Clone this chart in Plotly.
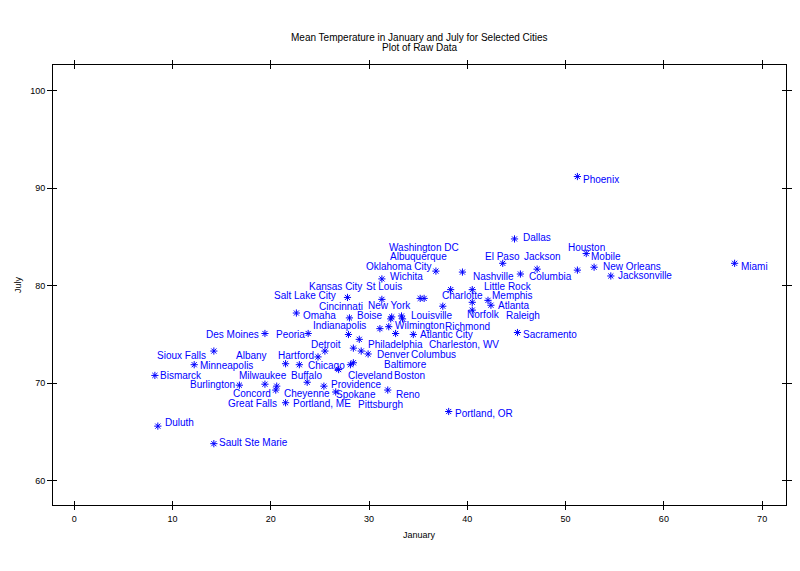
import plotly.graph_objects as go

cities = ["Mobile", "Phoenix", "Little Rock", "Sacramento", "Denver", "Hartford", "Wilmington",
          "Washington DC", "Jacksonville", "Miami", "Atlanta", "Boise", "Chicago", "Peoria",
          "Indianapolis", "Des Moines", "Wichita", "Louisville", "New Orleans", "Portland, ME",
          "Baltimore", "Boston", "Detroit", "Sault Ste Marie", "Duluth", "Minneapolis", "Jackson",
          "Kansas City", "St Louis", "Great Falls", "Omaha", "Reno", "Concord", "Atlantic City",
          "Albuquerque", "Albany", "Buffalo", "New York", "Charlotte", "Raleigh", "Bismarck",
          "Cincinnati", "Cleveland", "Columbus", "Oklahoma City", "Portland, OR", "Philadelphia",
          "Pittsburgh", "Providence", "Columbia", "Sioux Falls", "Memphis", "Nashville", "Dallas",
          "El Paso", "Houston", "Salt Lake City", "Burlington", "Norfolk", "Richmond", "Spokane",
          "Charleston, WV", "Milwaukee", "Cheyenne"]

january = [51.2, 51.2, 39.5, 45.1, 29.9, 24.8, 32.0,
           35.6, 54.6, 67.2, 42.4, 29.0, 22.9, 23.8,
           27.9, 19.4, 31.3, 33.3, 52.9, 21.5,
           33.4, 29.2, 25.5, 14.2, 8.5, 12.2, 47.1,
           27.8, 31.3, 20.5, 22.6, 31.9, 20.6, 32.7,
           35.2, 21.5, 23.7, 32.2, 42.1, 40.5, 8.2,
           31.1, 26.9, 28.4, 36.8, 38.1, 32.3,
           28.1, 28.4, 45.4, 14.2, 40.5, 38.3, 44.8,
           43.6, 52.1, 28.0, 16.8, 40.5, 37.5, 25.4,
           34.5, 19.4, 26.6]

july = [81.6, 91.2, 81.4, 75.2, 73.0, 72.7, 75.8,
        78.7, 81.0, 82.3, 78.0, 74.5, 71.9, 75.1,
        75.0, 75.1, 80.7, 76.9, 81.9, 68.0,
        76.6, 73.3, 73.3, 63.8, 65.6, 71.9, 81.7,
        78.8, 78.6, 69.3, 77.2, 69.3, 69.7, 75.1,
        78.7, 72.0, 70.1, 76.6, 78.5, 77.5, 70.8,
        75.6, 71.4, 73.6, 81.5, 67.1, 76.8,
        71.9, 72.1, 81.2, 73.3, 79.6, 79.6, 84.8,
        82.3, 83.3, 76.7, 69.8, 78.3, 77.9, 69.7,
        75.0, 69.9, 69.1]

x_ticks = [0, 10, 20, 30, 40, 50, 60, 70]
y_ticks = [60, 70, 80, 90, 100]

title_lines = ["Mean Temperature in January and July for Selected Cities", "Plot of Raw Data"]
x_title = "January"
y_title = "July"

# label placement: pixel offset (dx right, dy down) of label's left/middle from its point
label_offsets = {
    "Mobile": (13.4, -13.4), "Phoenix": (5.4, 2.5), "Little Rock": (21.7, 14.6),
    "Sacramento": (6, 2.2), "Denver": (8.8, 0.75), "Hartford": (-40.1, -1.9),
    "Wilmington": (6.4, -0.95), "Washington DC": (-35.6, -50.7), "Jacksonville": (7, 0),
    "Miami": (6.1, 3.4), "Atlanta": (7.5, 0.5), "Boise": (-2.4, -23.6), "Chicago": (8.9, 0.3),
    "Peoria": (-32.25, 1.2), "Indianapolis": (-35, -8.65), "Des Moines": (-59, 1.2),
    "Wichita": (8.3, -2.2), "Louisville": (9.4, -0.2), "New Orleans": (8.7, -0.5),
    "Portland, ME": (7.4, 1), "Baltimore": (-18.3, 45.9), "Boston": (33, 24),
    "Detroit": (-14, -6.7), "Sault Ste Marie": (5.4, -0.95), "Duluth": (7.4, -3.4),
    "Minneapolis": (5.4, 0.3), "Jackson": (-13, -12.4), "Kansas City": (-38.3, -10.7),
    "St Louis": (-15.7, -12.65), "Great Falls": (-47.5, 13.7), "Omaha": (6.5, 2.7),
    "Reno": (8.1, 4), "Concord": (-43.5, 7.6), "Atlantic City": (24.6, 1.2),
    "Albuquerque": (-30, -41.7), "Albany": (-49.3, -8.7), "Buffalo": (-16, -7.2),
    "New York": (-22.8, -13.1), "Charlotte": (-46.1, -4.6), "Raleigh": (33.6, 5.6),
    "Bismarck": (5.4, -0.4), "Cincinnati": (-60.7, -22.6), "Cleveland": (8.9, 5.45),
    "Columbus": (57.8, 6.6), "Oklahoma City": (-70.2, -4.4), "Portland, OR": (6.5, 1.8),
    "Philadelphia": (-23.8, 27.4), "Pittsburgh": (7.5, 39.3), "Providence": (-22.5, 21.3),
    "Columbia": (8.7, 2.7), "Sioux Falls": (-56.9, 4), "Memphis": (19.6, 6.1),
    "Nashville": (22.2, -12.9), "Dallas": (8.9, -1.2), "El Paso": (-17.6, -6.6),
    "Houston": (-17.8, -5.8), "Salt Lake City": (-75.2, -22.2), "Burlington": (-49.1, -1.15),
    "Norfolk": (-5.4, 11.9), "Richmond": (2.4, 19.8), "Spokane": (12.3, 7.9),
    "Charleston, WV": (15.9, 9.85), "Milwaukee": (-26, -9.2), "Cheyenne": (-51.5, 1.7),
}

BLUE = "#0000ff"
FAM = "Liberation Sans, Arial, sans-serif"
LABEL_FONT = dict(family=FAM, size=10, color=BLUE)
AX_FONT = dict(family=FAM, size=9, color="black")
TXT_FONT = dict(family=FAM, size=9, color="black")

fig = go.Figure()
fig.add_trace(go.Scatter(
    x=january, y=july, mode="markers", text=cities, hoverinfo="text",
    marker=dict(symbol="asterisk-open", size=6, color=BLUE, line=dict(color=BLUE, width=1)),
    showlegend=False, cliponaxis=False))
# helper trace for the inner tick overlay axes
fig.add_trace(go.Scatter(x=[january[0]], y=[july[0]], xaxis="x2", yaxis="y2",
                         mode="markers", marker=dict(opacity=0), showlegend=False, hoverinfo="skip"))

for c, xv, yv in zip(cities, january, july):
    dx, dy = label_offsets[c]
    fig.add_annotation(x=xv, y=yv, xref="x", yref="y", text=c, showarrow=False,
                       xanchor="left", yanchor="middle", xshift=dx, yshift=-dy,
                       borderpad=0, borderwidth=0, font=LABEL_FONT)

# titles
fig.add_annotation(x=0.5, y=1, xref="paper", yref="paper", text=title_lines[0], showarrow=False,
                   xanchor="center", yanchor="middle", yshift=27.5, borderpad=0, font=dict(family=FAM, size=10, color="black"))
fig.add_annotation(x=0.5, y=1, xref="paper", yref="paper", text=title_lines[1], showarrow=False,
                   xanchor="center", yanchor="middle", yshift=17.5, borderpad=0, font=dict(family=FAM, size=10, color="black"))
fig.add_annotation(x=0.5, y=0, xref="paper", yref="paper", text=x_title, showarrow=False,
                   xanchor="center", yanchor="middle", yshift=-30, borderpad=0, font=TXT_FONT)
fig.add_annotation(x=0, y=0.5, xref="paper", yref="paper", text=y_title, showarrow=False, textangle=-90,
                   xanchor="center", yanchor="middle", xshift=-35, borderpad=0, font=TXT_FONT)

xr = [-2.17, 72.43]
yr = [57.51, 102.64]
# the page body adds an 8px margin, so the figure is 784x555 and placed at (8, 8)
fig.update_layout(
    width=784, height=555,
    margin=dict(l=45, r=6, t=57, b=58, autoexpand=False),
    paper_bgcolor="white", plot_bgcolor="white",
    xaxis=dict(range=xr, tickvals=x_ticks, ticktext=[str(v) for v in x_ticks], automargin=False,
               showgrid=False, zeroline=False, showline=True, linecolor="black", linewidth=1,
               mirror="ticks", ticks="outside", ticklen=4, tickcolor="black", tickwidth=1,
               tickfont=AX_FONT, ticklabelstandoff=1),
    yaxis=dict(range=yr, tickvals=y_ticks, ticktext=[str(v) for v in y_ticks], automargin=False,
               showgrid=False, zeroline=False, showline=True, linecolor="black", linewidth=1,
               mirror="ticks", ticks="outside", ticklen=5, tickcolor="black", tickwidth=1,
               tickfont=AX_FONT),
    xaxis2=dict(range=xr, overlaying="x", tickvals=x_ticks, showticklabels=False, automargin=False,
                showgrid=False, zeroline=False, showline=False, mirror="ticks",
                ticks="inside", ticklen=4, tickcolor="black", tickwidth=1),
    yaxis2=dict(range=yr, overlaying="y", tickvals=y_ticks, showticklabels=False, automargin=False,
                showgrid=False, zeroline=False, showline=False, mirror="ticks",
                ticks="inside", ticklen=4, tickcolor="black", tickwidth=1),
)

fig.write_html("out.html")
